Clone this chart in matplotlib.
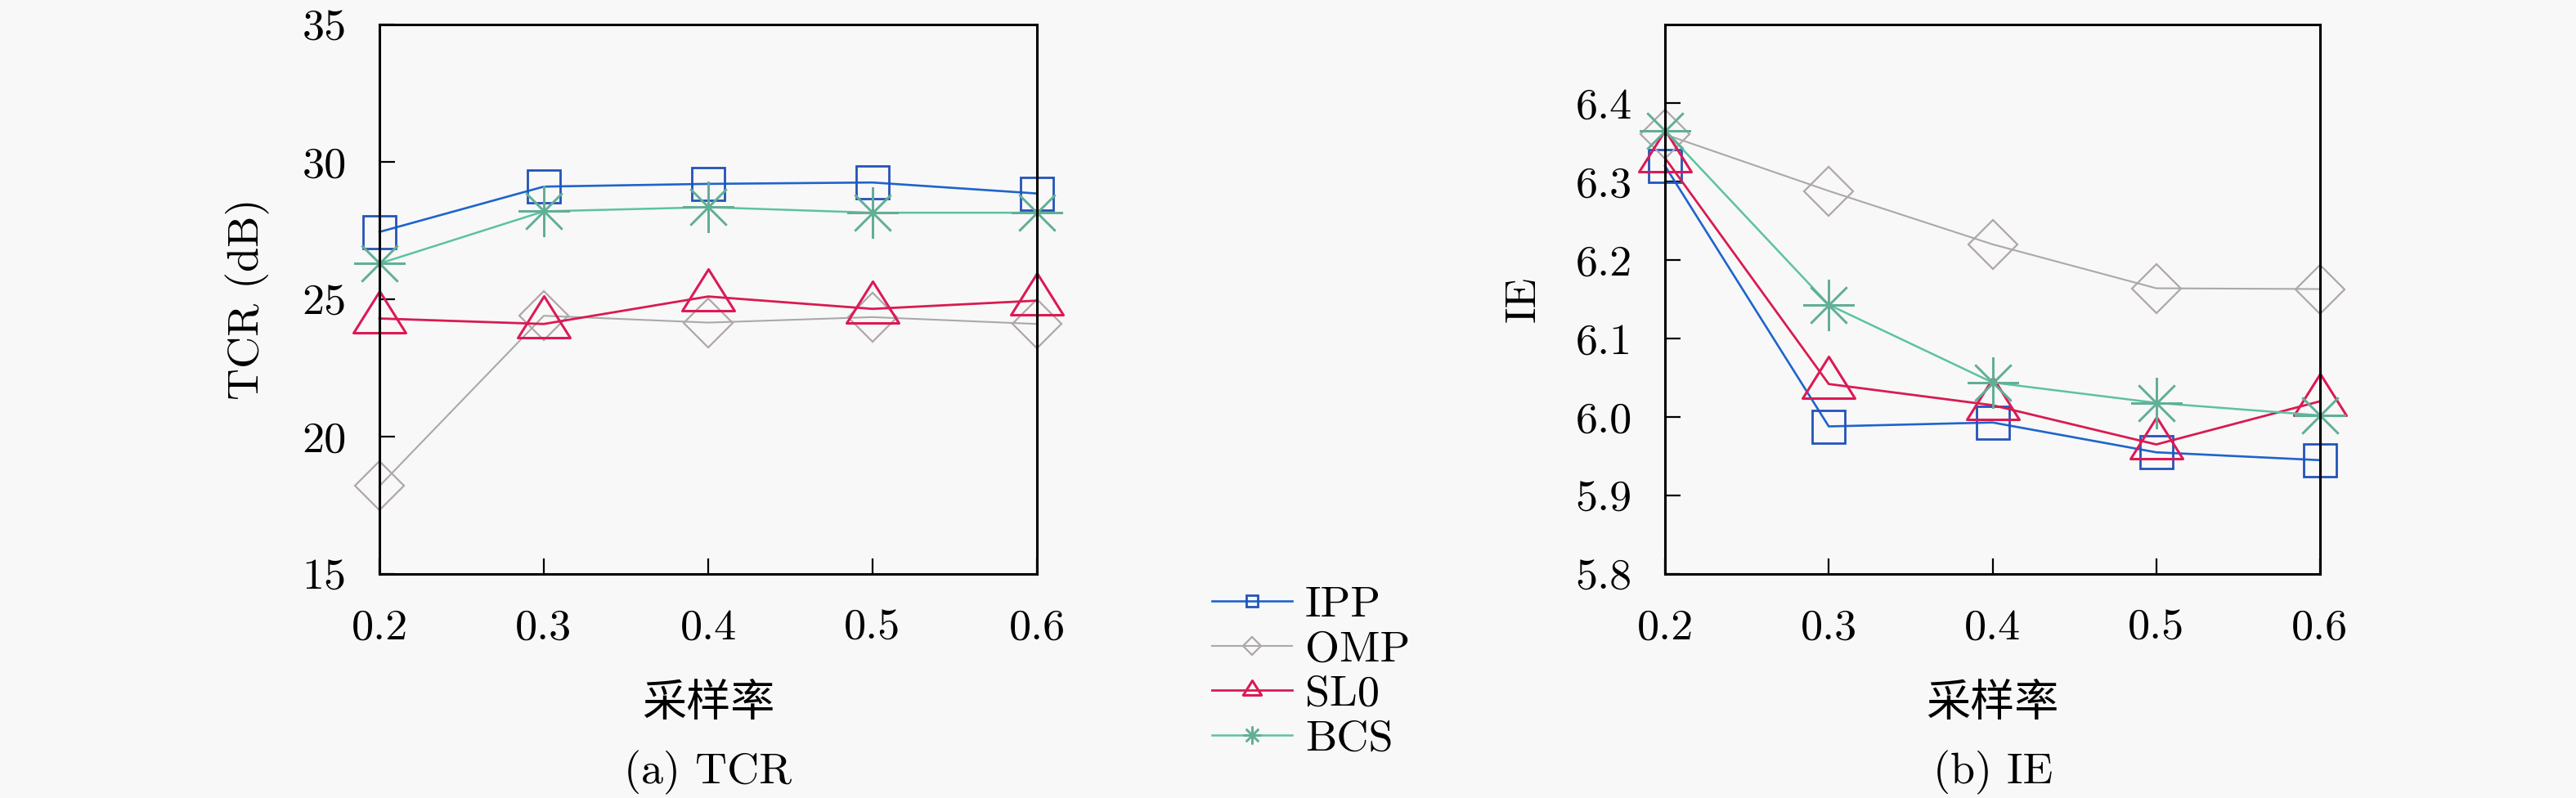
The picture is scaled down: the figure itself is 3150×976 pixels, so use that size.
import matplotlib
matplotlib.use("Agg")
import matplotlib.pyplot as plt
from matplotlib.path import Path
import numpy as np

# sampling rates
rates = [0.2, 0.3, 0.4, 0.5, 0.6]
methods = ["IPP", "OMP", "SL0", "BCS"]

# (a) TCR in dB
tcr_ipp = [27.45, 29.1, 29.2, 29.25, 28.85]
tcr_omp = [18.2, 24.4, 24.15, 24.35, 24.1]
tcr_sl0 = [24.3, 24.1, 25.1, 24.65, 24.95]
tcr_bcs = [26.3, 28.2, 28.35, 28.15, 28.15]

# (b) IE
ie_ipp = [6.32, 5.988, 5.993, 5.955, 5.945]
ie_omp = [6.36, 6.288, 6.22, 6.164, 6.163]
ie_sl0 = [6.33, 6.042, 6.015, 5.965, 6.02]
ie_bcs = [6.365, 6.143, 6.044, 6.018, 6.002]

tcr_ticks = [15, 20, 25, 30, 35]
ie_ticks = [5.8, 5.9, 6.0, 6.1, 6.2, 6.3, 6.4]
x_ticks = ["0.2", "0.3", "0.4", "0.5", "0.6"]

LATIN = "cmr10"
FS = 39
BG = "#f8f8f8"
plt.rcParams["font.family"] = [LATIN, "Noto Sans CJK SC"]
plt.rcParams["axes.formatter.use_mathtext"] = True

# triangle drawn around its centroid, wider than tall (pgfplots style)
tri = Path([(0, 34), (-32, -17), (32, -17), (0, 34)],
           [Path.MOVETO, Path.LINETO, Path.LINETO, Path.CLOSEPOLY])

styles = {
    "IPP": dict(color="#1f64cc", marker="s", ms=29, lw=1.9, mew=2.0, mec="#2454b8"),
    "OMP": dict(color="#a9a9a9", marker="D", ms=31, lw=1.5, mew=1.6, mec="#b0a6aa"),
    "SL0": dict(color="#d81b52", marker=tri, ms=49, lw=2.0, mew=2.2, mec="#dc1a55"),
    "BCS": dict(color="#5cc2a2", marker=(8, 2, 0), ms=45, lw=1.8, mew=1.8, mec="#62ae96"),
}

fig = plt.figure(figsize=(31.5, 9.76), dpi=100, facecolor=BG)
ax1 = fig.add_axes([464 / 3150, 1 - 702 / 976, 804 / 3150, 672 / 976], facecolor=BG)
ax2 = fig.add_axes([2036 / 3150, 1 - 702 / 976, 801 / 3150, 672 / 976], facecolor=BG)


def draw(ax, series, ylim, yticks, ylabel, ylab_x, fmt):
    handles = []
    for name, vals in zip(methods, series):
        st = styles[name]
        h, = ax.plot(rates, vals, color=st["color"], lw=st["lw"], marker=st["marker"],
                     markersize=st["ms"], markeredgewidth=st["mew"],
                     markeredgecolor=st["mec"], markerfacecolor="none",
                     label=name, clip_on=False)
        handles.append(h)
    ax.set_xlim(0.2, 0.6)
    ax.set_ylim(*ylim)
    ax.set_xticks(rates)
    ax.set_xticklabels(x_ticks)
    ax.set_yticks(yticks)
    ax.set_yticklabels([fmt.format(v) for v in yticks])
    ax.tick_params(direction="in", length=14, width=1.6, labelsize=FS,
                   top=False, right=False)
    ax.tick_params(axis="y", pad=29)
    ax.tick_params(axis="x", pad=31)
    for sp in ax.spines.values():
        sp.set_linewidth(2.2)
    ax.set_ylabel(ylabel, fontsize=FS)
    ax.yaxis.set_label_coords(ylab_x, 0.5)
    ax.set_xlabel("采样率", fontsize=FS, family=["Noto Sans CJK SC"])
    ax.xaxis.set_label_coords(0.5, -0.195)
    return handles


hs = draw(ax1, [tcr_ipp, tcr_omp, tcr_sl0, tcr_bcs], (15, 35), tcr_ticks,
          "TCR (dB)", -0.167, "{:d}")
draw(ax2, [ie_ipp, ie_omp, ie_sl0, ie_bcs], (5.8, 6.5), ie_ticks,
     "IE", -0.186, "{:.1f}")

leg = fig.legend(handles=hs, loc="center left", bbox_to_anchor=(1455 / 3150, 1 - 822 / 976),
                 frameon=False, fontsize=FS, markerscale=0.35, handlelength=1.8,
                 handletextpad=0.3, labelspacing=0.12, borderpad=0)

fig.text(866 / 3150, 1 - 945 / 976, "(a) TCR", ha="center", va="center", fontsize=FS)
fig.text(2437 / 3150, 1 - 945 / 976, "(b) IE", ha="center", va="center", fontsize=FS)

fig.savefig("out.png", dpi=100, facecolor=BG)
